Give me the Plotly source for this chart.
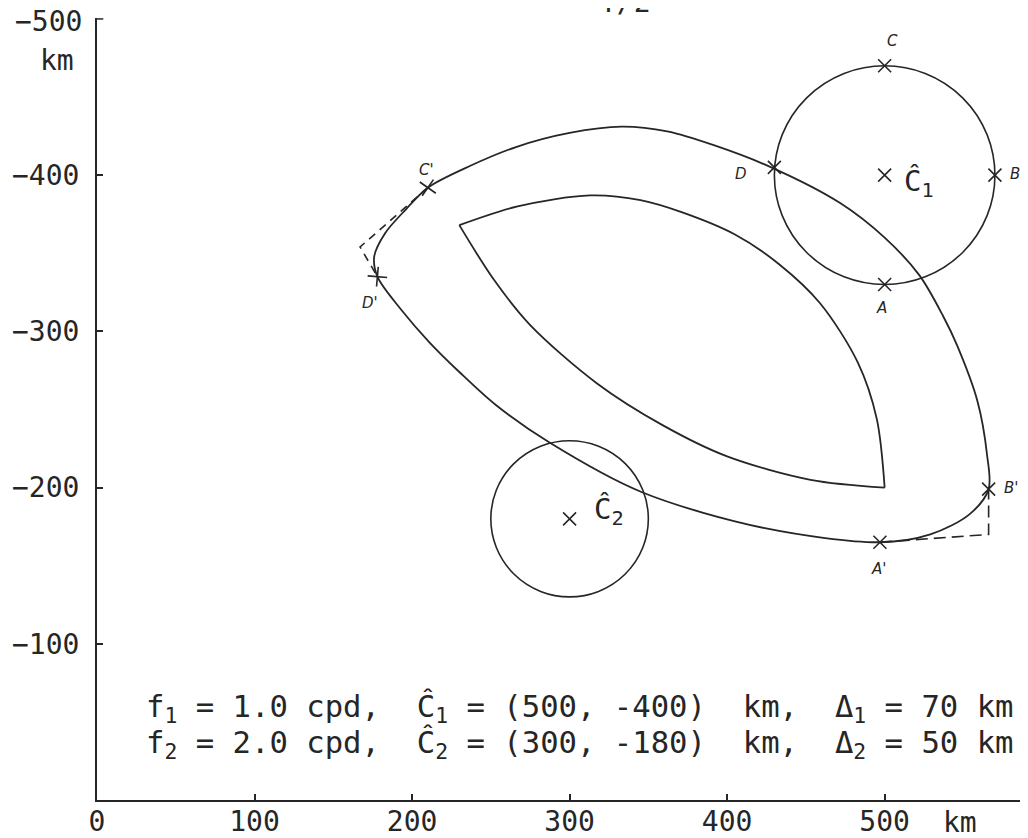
import plotly.graph_objects as go

# ---------------- data (km) ----------------
outer_x = [333, 362, 392, 428, 472, 500, 522, 537, 546, 559, 565, 566, 554, 529, 497, 424, 346, 287, 253, 230,
           211, 193, 178, 176, 183, 196, 210, 237, 266, 300, 333]
outer_y = [-431, -428, -419, -405, -382, -360, -336, -310, -291, -255, -221, -199, -183, -170, -165, -174, -197,
           -229, -253, -274, -293, -314, -335, -348, -363, -378, -392, -406, -418, -427, -431]

inner_top_x = [230, 267, 313, 345, 372, 405, 433, 459, 483, 495, 500]
inner_top_y = [-368, -380, -387, -384, -376, -362, -343, -318, -280, -244, -200]
inner_bot_x = [500, 453, 400, 359, 317, 275, 252, 230]
inner_bot_y = [-200, -205, -220, -240, -267, -304, -333, -368]

dash_cd_x = [210, 167, 178]
dash_cd_y = [-392, -354, -335]
dash_ab_x = [497, 566, 566]
dash_ab_y = [-165, -170, -199]

centers_x = [500, 300]
centers_y = [-400, -180]
radii = [70, 50]

pts_x = [500, 570, 500, 430, 497, 566]   # C, B, A, D, A', B'
pts_y = [-470, -400, -330, -405, -165, -199]
plus_x = [210, 178]                      # C', D'
plus_y = [-392, -335]

lbl_x = [505, 583, 498, 409, 209, 173, 496, 580]
lbl_y = [-486, -401, -315, -401, -403, -318, -148, -200]
lbl_t = ["C", "B", "A", "D", "C'", "D'", "A'", "B'"]

x_ticks = [0, 100, 200, 300, 400, 500]
y_ticks = [-500, -400, -300, -200, -100]
y_top = -500

INK = "#262626"
MONO = "DejaVu Sans Mono"

OFF = 8                      # page body margin of the html page
W, H = 1028 - OFF, 838 - OFF
L, R, T = 97 - OFF, 0, 18 - OFF
B = H - (800 - OFF)
PW, PH = W - L - R, H - T - B


def px_to_paper(px, py):
    """page pixel -> paper coordinates"""
    fx, fy = px - OFF, py - OFF
    return (fx - L) / PW, (H - B - fy) / PH


fig = go.Figure()

spl = dict(color=INK, width=1.8, shape="spline", smoothing=0.9)
fig.add_trace(go.Scatter(x=outer_x, y=outer_y, mode="lines", line=spl))
fig.add_trace(go.Scatter(x=inner_top_x, y=inner_top_y, mode="lines", line=spl))
fig.add_trace(go.Scatter(x=inner_bot_x, y=inner_bot_y, mode="lines", line=spl))
fig.add_trace(go.Scatter(x=dash_cd_x, y=dash_cd_y, mode="lines",
                         line=dict(color=INK, width=1.6, dash="8px,6px")))
fig.add_trace(go.Scatter(x=dash_ab_x, y=dash_ab_y, mode="lines",
                         line=dict(color=INK, width=1.6, dash="12px,6px")))

for cx, cy, r in zip(centers_x, centers_y, radii):
    fig.add_shape(type="circle", xref="x", yref="y", x0=cx - r, x1=cx + r, y0=cy - r, y1=cy + r,
                  line=dict(color=INK, width=1.6))

fig.add_trace(go.Scatter(x=pts_x + centers_x, y=pts_y + centers_y, mode="markers",
                         marker=dict(symbol="x-thin", size=13, line=dict(width=1.6, color=INK))))
fig.add_trace(go.Scatter(x=plus_x, y=plus_y, mode="markers",
                         marker=dict(symbol="cross-thin", size=14, angle=[35, 5],
                                     line=dict(width=1.6, color=INK))))

for x, y, t in zip(lbl_x, lbl_y, lbl_t):
    fig.add_annotation(x=x, y=y, text=t, showarrow=False, xref="x", yref="y",
                       font=dict(family="DejaVu Sans", size=15, color=INK, style="italic"))

fig.add_annotation(x=511, y=-395, text="Ĉ<sub>1</sub>", showarrow=False, xanchor="left",
                   font=dict(family=MONO, size=29, color=INK))
fig.add_annotation(x=314, y=-185, text="Ĉ<sub>2</sub>", showarrow=False, xanchor="left",
                   font=dict(family=MONO, size=29, color=INK))

sp = "\u00a0"
line1 = f"f<sub>1</sub> = 1.0 cpd,{sp}{sp}Ĉ<sub>1</sub> = (500, -400){sp}{sp}km,{sp}{sp}Δ<sub>1</sub> = 70 km"
line2 = f"f<sub>2</sub> = 2.0 cpd,{sp}{sp}Ĉ<sub>2</sub> = (300, -180){sp}{sp}km,{sp}{sp}Δ<sub>2</sub> = 50 km"
fig.add_annotation(x=30, y=-59, text=line1, showarrow=False, xanchor="left", yanchor="middle",
                   font=dict(family=MONO, size=30.6, color=INK))
fig.add_annotation(x=30, y=-36, text=line2, showarrow=False, xanchor="left", yanchor="middle",
                   font=dict(family=MONO, size=30.6, color=INK))

# top y tick and its label (at the very edge of the page)
fig.add_shape(type="line", xref="x", yref="y", x0=0, x1=4, y0=y_top, y1=y_top,
              line=dict(color=INK, width=1.5))
lx, ly = px_to_paper(84, 21)
fig.add_annotation(xref="paper", yref="paper", x=lx, y=ly, text="\u2212" + str(-y_top), showarrow=False,
                   xanchor="right", yanchor="middle", font=dict(family=MONO, size=28, color=INK))

# axis unit labels (outside the plot area -> paper coordinates)
kx, ky = px_to_paper(57, 60)
fig.add_annotation(xref="paper", yref="paper", x=kx, y=ky, text="km", showarrow=False,
                   xanchor="center", yanchor="middle",
                   font=dict(family=MONO, size=28, color=INK))
kx, ky = px_to_paper(960, 822)
fig.add_annotation(xref="paper", yref="paper", x=kx, y=ky, text="km", showarrow=False,
                   xanchor="center", yanchor="middle",
                   font=dict(family=MONO, size=28, color=INK))
# partially cut title at the top edge
tx, ty = px_to_paper(625, 21)
fig.add_annotation(xref="paper", yref="paper", x=tx, y=ty, xanchor="center", yanchor="bottom",
                   text="T/2", showarrow=False, font=dict(family=MONO, size=28, color=INK))

fig.update_layout(
    width=W, height=H,
    margin=dict(l=L, r=R, t=T, b=B, pad=0),
    paper_bgcolor="white", plot_bgcolor="white",
    showlegend=False,
    xaxis=dict(range=[0, 591], automargin=False, showgrid=False, zeroline=False, showline=True,
               linecolor=INK, linewidth=2,
               tickvals=x_ticks, ticktext=[str(v) for v in x_ticks], ticks="inside", ticklen=6,
               tickcolor=INK, tickwidth=1.5, tickfont=dict(family=MONO, size=28, color=INK),
               ticklabelstandoff=-5),
    yaxis=dict(range=[0, -500.6], automargin=False, showgrid=False, zeroline=False, showline=True,
               linecolor=INK, linewidth=2,
               tickvals=y_ticks, ticktext=["\u2212" + str(-v) for v in y_ticks], ticks="inside", ticklen=6,
               tickcolor=INK, tickwidth=1.5, tickfont=dict(family=MONO, size=28, color=INK),
               ticklabelstandoff=10),
)

fig.write_html("out.html")
